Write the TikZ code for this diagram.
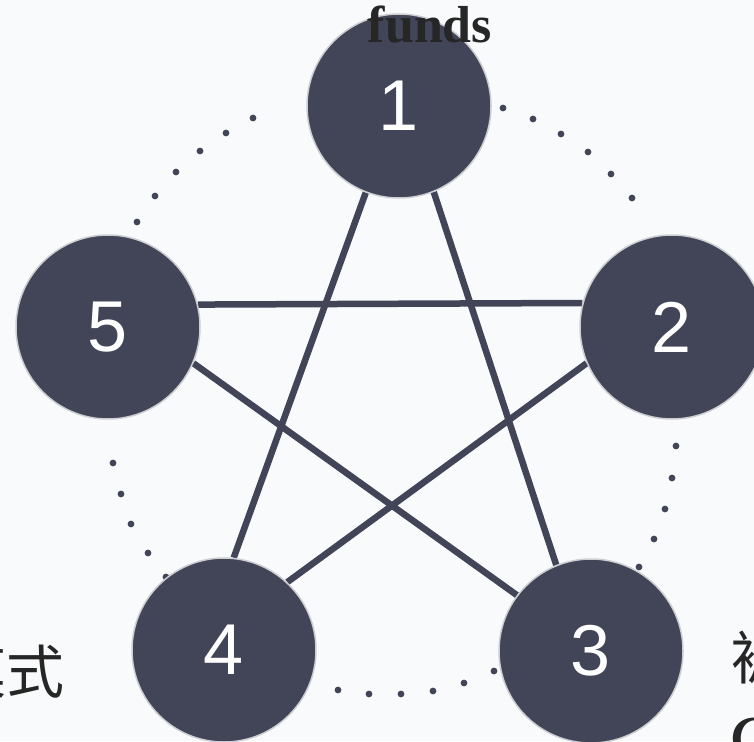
\documentclass[tikz,border=0pt]{standalone}
\usepackage{fontspec}
\setmainfont{Liberation Serif}
\newfontfamily\numfont{Liberation Sans}
\newfontfamily\cjk{Noto Sans CJK SC}
\usetikzlibrary{backgrounds}
\definecolor{ink}{RGB}{66,69,87}
\definecolor{paper}{RGB}{248,250,251}
\definecolor{rim}{RGB}{205,206,210}

\begin{document}
\begin{tikzpicture}[x=1pt, y=-1pt,
        ball/.style={circle, draw=rim, line width=1.5pt, fill=ink, text=white, minimum size=184pt, inner sep=0pt, font=\numfont\fontsize{72}{72}\selectfont},
        link/.style={draw=ink, line width=6.5pt}]
        \useasboundingbox (0,0) rectangle (754,741);

        \node[ball] (c1) at (399,106) {1};
        \node[ball] (c2) at (672,327) {2};
        \node[ball] (c3) at (591,651) {3};
        \node[ball] (c4) at (224,650) {4};
        \node[ball] (c5) at (108,327) {5};

        \begin{scope}[on background layer]
            \fill[paper] (0,0) rectangle (754,741);

            % dotted arcs between the balls
            \foreach \p in {(253,118),(226,133),(200,151),(176,172),(155,196),(137,222),
                            (503,108),(533,119),(561,134),(588,152),(611,174),(632,198),
                            (676,446),(672,478),(665,509),(654,539),(639,567),
                            (494,671),(464,683),(433,691),(401,694),(369,694),(338,690),
                            (166,577),(148,553),(131,524),(121,494),(113,463)}
                \fill[ink] \p circle (3.4);

            \draw[link] (c1.249)   -- (c4.84);
            \draw[link] (c1.292)   -- (c3.112);
            \draw[link] (c5.14.5)  -- (c2.165.5);
            \draw[link] (c2.203)   -- (c4.47);
            \draw[link] (c5.337.5) -- (c3.143.6);
        \end{scope}

        \node[font=\bfseries\fontsize{52}{52}\selectfont, text=black!85, anchor=base] (title) at (430,43) {funds};
        \node[font=\cjk\fontsize{58}{58}\selectfont, text=black!85, anchor=east, inner sep=0pt] (left) at (65,672) {模式};
        \node[font=\cjk\fontsize{58}{58}\selectfont, text=black!85, anchor=west, inner sep=0pt] (right) at (731,657) {被};
        \node[font=\bfseries\itshape\fontsize{52}{52}\selectfont, text=black!85, anchor=north west, inner sep=0pt] (under) at (731,718) {C};
    \end{tikzpicture}
\end{document}
